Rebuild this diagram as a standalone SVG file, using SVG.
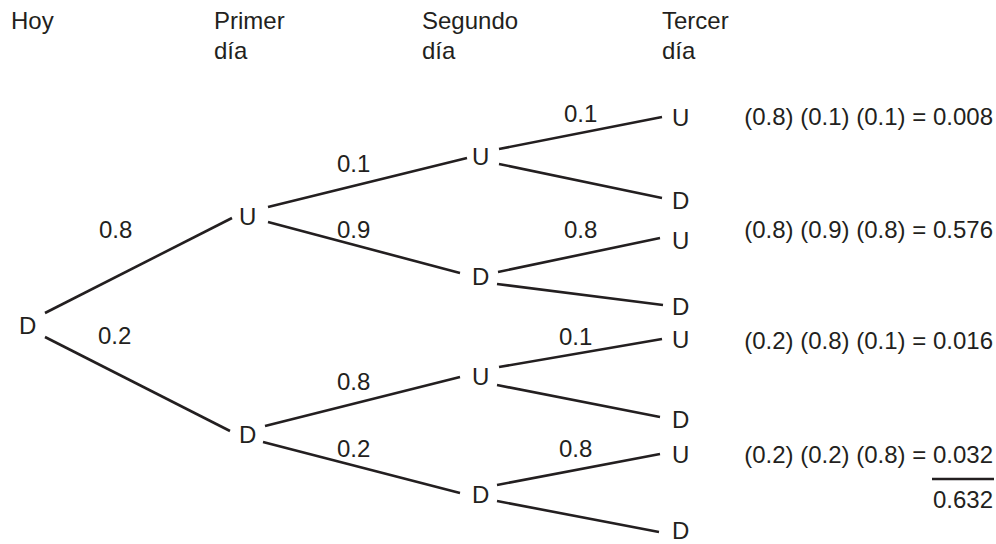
<svg xmlns="http://www.w3.org/2000/svg" width="996" height="544" viewBox="0 0 996 544">
<style>
text{font-family:"Liberation Sans",Arial,sans-serif;font-size:24px;fill:#231f20}
.r{text-anchor:end}
line{stroke:#231f20;stroke-width:2.6;stroke-linecap:butt}
</style>
<rect width="996" height="544" fill="#fff"/>
<g id="headers">
<text x="11" y="29">Hoy</text>
<text x="214" y="29">Primer</text>
<text x="214" y="59">día</text>
<text x="422" y="29">Segundo</text>
<text x="422" y="59">día</text>
<text x="662" y="29">Tercer</text>
<text x="662" y="59">día</text>
</g>
<g id="connectors">
<line x1="45" y1="313" x2="232" y2="218"/>
<line x1="45" y1="337" x2="230" y2="431"/>
<line x1="268" y1="207" x2="467" y2="158"/>
<line x1="268" y1="222" x2="460" y2="273"/>
<line x1="265" y1="426" x2="460" y2="377"/>
<line x1="263" y1="442" x2="460" y2="493"/>
<line x1="499" y1="149" x2="662" y2="117"/>
<line x1="499" y1="164" x2="662" y2="198"/>
<line x1="498" y1="272" x2="660" y2="238"/>
<line x1="497" y1="284" x2="663" y2="305"/>
<line x1="499" y1="367" x2="662" y2="339"/>
<line x1="497" y1="385" x2="660" y2="417"/>
<line x1="497" y1="485" x2="660" y2="454"/>
<line x1="497" y1="501" x2="659" y2="532"/>
</g>
<g id="edge-labels">
<text x="99" y="238">0.8</text>
<text x="98" y="344">0.2</text>
<text x="337" y="172">0.1</text>
<text x="337" y="238">0.9</text>
<text x="337" y="390">0.8</text>
<text x="337" y="457">0.2</text>
<text x="564" y="122">0.1</text>
<text x="564" y="238">0.8</text>
<text x="559" y="345">0.1</text>
<text x="559" y="457">0.8</text>
</g>
<g id="n-root"><text x="19" y="334">D</text></g>
<g id="n-1U"><text x="239" y="225">U</text></g>
<g id="n-1D"><text x="239" y="443">D</text></g>
<g id="n-2UU"><text x="472" y="165">U</text></g>
<g id="n-2UD"><text x="472" y="285">D</text></g>
<g id="n-2DU"><text x="472" y="385">U</text></g>
<g id="n-2DD"><text x="472" y="503">D</text></g>
<g id="n-3a"><text x="672" y="126">U</text></g>
<g id="n-3b"><text x="672" y="209">D</text></g>
<g id="n-3c"><text x="672" y="249">U</text></g>
<g id="n-3d"><text x="672" y="315">D</text></g>
<g id="n-3e"><text x="672" y="348">U</text></g>
<g id="n-3f"><text x="672" y="428">D</text></g>
<g id="n-3g"><text x="672" y="463">U</text></g>
<g id="n-3h"><text x="672" y="539">D</text></g>
<g id="results">
<text class="r" x="993" y="125">(0.8) (0.1) (0.1) = 0.008</text>
<text class="r" x="993" y="238">(0.8) (0.9) (0.8) = 0.576</text>
<text class="r" x="993" y="349">(0.2) (0.8) (0.1) = 0.016</text>
<text class="r" x="993" y="463">(0.2) (0.2) (0.8) = 0.032</text>
<line x1="932" y1="479" x2="994" y2="479"/>
<text class="r" x="993" y="508">0.632</text>
</g>
</svg>
